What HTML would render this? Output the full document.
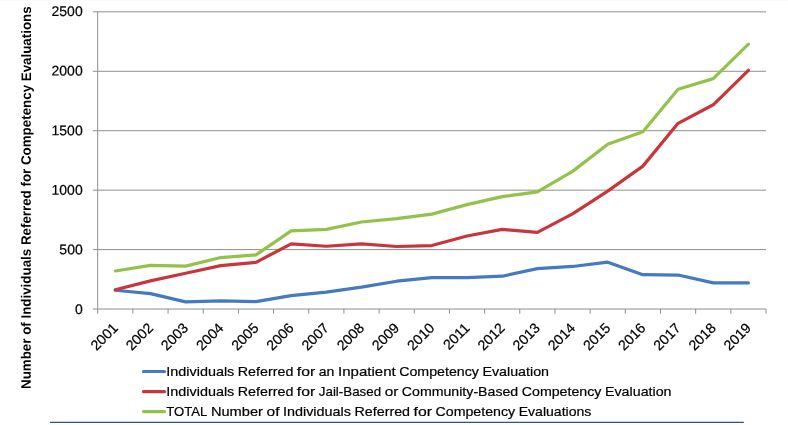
<!DOCTYPE html>
<html><head><meta charset="utf-8"><title>chart</title>
<style>
html,body{margin:0;padding:0;background:#fff;}
body{width:788px;height:425px;overflow:hidden;font-family:"Liberation Sans",sans-serif;}
svg{display:block;will-change:transform;}
text{font-family:"Liberation Sans",sans-serif;fill:#000;stroke:#000;stroke-width:0;}
.y{font-size:14.0px;stroke-width:0.2px;text-anchor:end;}
.x{font-size:14.2px;stroke-width:0.2px;text-anchor:end;}
.l{font-size:13.3px;stroke-width:0.2px;}
</style></head><body>
<svg width="788" height="425" viewBox="0 0 788 425">
<rect width="788" height="425" fill="#ffffff"/>
<rect x="0" y="0" width="788" height="1" fill="#fbfbfd"/>

<g stroke="#8e8e8e" stroke-width="1" fill="none">
<line x1="92.90" y1="309.03" x2="766.00" y2="309.03"/>
<line x1="92.90" y1="249.59" x2="766.00" y2="249.59"/>
<line x1="92.90" y1="190.15" x2="766.00" y2="190.15"/>
<line x1="92.90" y1="130.71" x2="766.00" y2="130.71"/>
<line x1="92.90" y1="71.27" x2="766.00" y2="71.27"/>
<line x1="92.90" y1="11.83" x2="766.00" y2="11.83"/>
<line x1="97.70" y1="11.83" x2="97.70" y2="309.03"/>
<line x1="97.70" y1="309.03" x2="97.70" y2="313.73"/>
<line x1="132.87" y1="309.03" x2="132.87" y2="313.73"/>
<line x1="168.05" y1="309.03" x2="168.05" y2="313.73"/>
<line x1="203.22" y1="309.03" x2="203.22" y2="313.73"/>
<line x1="238.39" y1="309.03" x2="238.39" y2="313.73"/>
<line x1="273.57" y1="309.03" x2="273.57" y2="313.73"/>
<line x1="308.74" y1="309.03" x2="308.74" y2="313.73"/>
<line x1="343.92" y1="309.03" x2="343.92" y2="313.73"/>
<line x1="379.09" y1="309.03" x2="379.09" y2="313.73"/>
<line x1="414.26" y1="309.03" x2="414.26" y2="313.73"/>
<line x1="449.44" y1="309.03" x2="449.44" y2="313.73"/>
<line x1="484.61" y1="309.03" x2="484.61" y2="313.73"/>
<line x1="519.78" y1="309.03" x2="519.78" y2="313.73"/>
<line x1="554.96" y1="309.03" x2="554.96" y2="313.73"/>
<line x1="590.13" y1="309.03" x2="590.13" y2="313.73"/>
<line x1="625.31" y1="309.03" x2="625.31" y2="313.73"/>
<line x1="660.48" y1="309.03" x2="660.48" y2="313.73"/>
<line x1="695.65" y1="309.03" x2="695.65" y2="313.73"/>
<line x1="730.83" y1="309.03" x2="730.83" y2="313.73"/>
<line x1="766.00" y1="309.03" x2="766.00" y2="313.73"/>
</g>
<path d="M115.29 290.25 L150.46 293.58 L185.63 301.90 L220.81 300.95 L255.98 301.66 L291.16 295.60 L326.33 292.15 L361.50 287.16 L396.68 281.21 L431.85 277.65 L467.02 277.65 L502.20 276.22 L537.37 268.61 L572.54 266.47 L607.72 262.19 L642.89 274.67 L678.07 275.03 L713.24 282.88 L748.41 282.88" fill="none" stroke="#4579c0" stroke-width="3.2" stroke-linecap="round" stroke-linejoin="round"/>
<path d="M115.29 289.77 L150.46 280.86 L185.63 273.25 L220.81 265.64 L255.98 262.31 L291.16 243.88 L326.33 246.26 L361.50 243.88 L396.68 246.50 L431.85 245.55 L467.02 236.04 L502.20 229.38 L537.37 232.35 L572.54 213.93 L607.72 191.10 L642.89 166.14 L678.07 123.34 L713.24 104.79 L748.41 70.32" fill="none" stroke="#c8363b" stroke-width="3.2" stroke-linecap="round" stroke-linejoin="round"/>
<path d="M115.29 270.99 L150.46 265.40 L185.63 266.11 L220.81 257.55 L255.98 254.94 L291.16 230.93 L326.33 229.38 L361.50 222.01 L396.68 218.68 L431.85 214.16 L467.02 204.65 L502.20 196.57 L537.37 191.93 L572.54 171.37 L607.72 144.26 L642.89 131.78 L678.07 89.34 L713.24 78.64 L748.41 44.17" fill="none" stroke="#93c24b" stroke-width="3.2" stroke-linecap="round" stroke-linejoin="round"/>
<text class="y" transform="translate(82.70 313.93) rotate(-0.05)">0</text>
<text class="y" transform="translate(82.70 254.33) rotate(-0.05)">500</text>
<text class="y" transform="translate(82.70 194.73) rotate(-0.05)">1000</text>
<text class="y" transform="translate(82.70 135.13) rotate(-0.05)">1500</text>
<text class="y" transform="translate(82.70 75.53) rotate(-0.05)">2000</text>
<text class="y" transform="translate(82.70 15.93) rotate(-0.05)">2500</text>
<text class="x" transform="translate(118.79 328.93) rotate(-45)">2001</text>
<text class="x" transform="translate(153.96 328.93) rotate(-45)">2002</text>
<text class="x" transform="translate(189.13 328.93) rotate(-45)">2003</text>
<text class="x" transform="translate(224.31 328.93) rotate(-45)">2004</text>
<text class="x" transform="translate(259.48 328.93) rotate(-45)">2005</text>
<text class="x" transform="translate(294.66 328.93) rotate(-45)">2006</text>
<text class="x" transform="translate(329.83 328.93) rotate(-45)">2007</text>
<text class="x" transform="translate(365.00 328.93) rotate(-45)">2008</text>
<text class="x" transform="translate(400.18 328.93) rotate(-45)">2009</text>
<text class="x" transform="translate(435.35 328.93) rotate(-45)">2010</text>
<text class="x" transform="translate(470.52 328.93) rotate(-45)">2011</text>
<text class="x" transform="translate(505.70 328.93) rotate(-45)">2012</text>
<text class="x" transform="translate(540.87 328.93) rotate(-45)">2013</text>
<text class="x" transform="translate(576.04 328.93) rotate(-45)">2014</text>
<text class="x" transform="translate(611.22 328.93) rotate(-45)">2015</text>
<text class="x" transform="translate(646.39 328.93) rotate(-45)">2016</text>
<text class="x" transform="translate(681.57 328.93) rotate(-45)">2017</text>
<text class="x" transform="translate(716.74 328.93) rotate(-45)">2018</text>
<text class="x" transform="translate(751.91 328.93) rotate(-45)">2019</text>
<text transform="translate(30.8 197.65) rotate(-89.95)" font-size="13.7" font-weight="bold" text-anchor="middle" textLength="382.6" lengthAdjust="spacingAndGlyphs">Number of Individuals Referred for Competency Evaluations</text>
<line x1="143.5" y1="371.50" x2="164.5" y2="371.50" stroke="#4579c0" stroke-width="3.2" stroke-linecap="round"/>
<text class="l" x="166.30" y="375.80" textLength="68.00" lengthAdjust="spacingAndGlyphs">Individuals</text>
<text class="l" x="237.82" y="375.80" textLength="55.53" lengthAdjust="spacingAndGlyphs">Referred</text>
<text class="l" x="296.88" y="375.80" textLength="18.41" lengthAdjust="spacingAndGlyphs">for</text>
<text class="l" x="318.81" y="375.80" textLength="15.65" lengthAdjust="spacingAndGlyphs">an</text>
<text class="l" x="337.98" y="375.80" textLength="57.72" lengthAdjust="spacingAndGlyphs">Inpatient</text>
<text class="l" x="399.23" y="375.80" textLength="79.72" lengthAdjust="spacingAndGlyphs">Competency</text>
<text class="l" x="482.47" y="375.80" textLength="66.54" lengthAdjust="spacingAndGlyphs">Evaluation</text>
<line x1="143.5" y1="391.70" x2="164.5" y2="391.70" stroke="#c8363b" stroke-width="3.2" stroke-linecap="round"/>
<text class="l" x="166.30" y="396.00" textLength="68.00" lengthAdjust="spacingAndGlyphs">Individuals</text>
<text class="l" x="237.82" y="396.00" textLength="55.53" lengthAdjust="spacingAndGlyphs">Referred</text>
<text class="l" x="296.88" y="396.00" textLength="18.41" lengthAdjust="spacingAndGlyphs">for</text>
<text class="l" x="318.81" y="396.00" textLength="62.33" lengthAdjust="spacingAndGlyphs">Jail-Based</text>
<text class="l" x="384.66" y="396.00" textLength="13.65" lengthAdjust="spacingAndGlyphs">or</text>
<text class="l" x="401.84" y="396.00" textLength="116.39" lengthAdjust="spacingAndGlyphs">Community-Based</text>
<text class="l" x="521.75" y="396.00" textLength="79.72" lengthAdjust="spacingAndGlyphs">Competency</text>
<text class="l" x="605.00" y="396.00" textLength="66.54" lengthAdjust="spacingAndGlyphs">Evaluation</text>
<line x1="143.5" y1="411.60" x2="164.5" y2="411.60" stroke="#93c24b" stroke-width="3.2" stroke-linecap="round"/>
<text class="l" x="166.30" y="415.90" textLength="41.07" lengthAdjust="spacingAndGlyphs">TOTAL</text>
<text class="l" x="210.90" y="415.90" textLength="52.07" lengthAdjust="spacingAndGlyphs">Number</text>
<text class="l" x="266.49" y="415.90" textLength="12.97" lengthAdjust="spacingAndGlyphs">of</text>
<text class="l" x="282.98" y="415.90" textLength="68.00" lengthAdjust="spacingAndGlyphs">Individuals</text>
<text class="l" x="354.51" y="415.90" textLength="55.53" lengthAdjust="spacingAndGlyphs">Referred</text>
<text class="l" x="413.56" y="415.90" textLength="18.41" lengthAdjust="spacingAndGlyphs">for</text>
<text class="l" x="435.49" y="415.90" textLength="79.72" lengthAdjust="spacingAndGlyphs">Competency</text>
<text class="l" x="518.73" y="415.90" textLength="72.64" lengthAdjust="spacingAndGlyphs">Evaluations</text>
<line x1="50" y1="422.4" x2="743.8" y2="422.4" stroke="#2a5296" stroke-width="1.25"/>
</svg></body></html>
